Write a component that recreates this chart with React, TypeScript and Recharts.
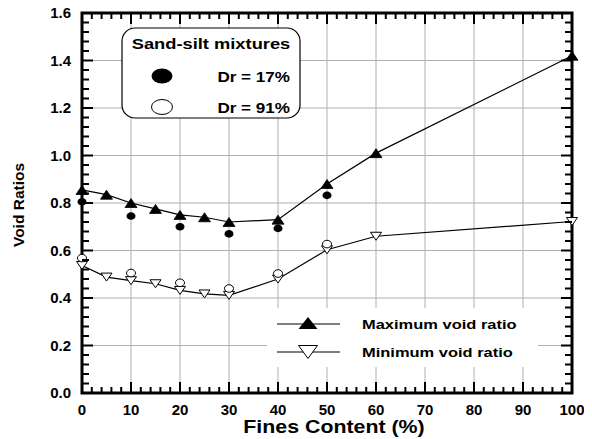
import React from "react";
import {
  ComposedChart,
  Line,
  XAxis,
  YAxis,
  CartesianGrid,
  ReferenceArea
} from "recharts";

// fines content (%) for the max / min void ratio curves
const fines = [0, 5, 10, 15, 20, 25, 30, 40, 50, 60, 100];
const maxVoid = [0.855, 0.835, 0.8, 0.775, 0.75, 0.74, 0.72, 0.73, 0.88, 1.01, 1.42];
const minVoid = [0.537, 0.488, 0.473, 0.46, 0.432, 0.417, 0.411, 0.48, 0.603, 0.66, 0.722];

// sand-silt mixture tests
const drFines = [0, 10, 20, 30, 40, 50];
const dr17 = [0.805, 0.745, 0.7, 0.67, 0.693, 0.832];
const dr91 = [0.568, 0.505, 0.464, 0.44, 0.503, 0.627];

const xMajor = [0, 10, 20, 30, 40, 50, 60, 70, 80, 90, 100];
const yMajor = [0, 0.2, 0.4, 0.6, 0.8, 1.0, 1.2, 1.4, 1.6];
const xTicks = Array.from({ length: 51 }, (_, i) => i * 2);
const yTicks = Array.from({ length: 41 }, (_, i) => Math.round(i * 4) / 100);

const FONT = "'Liberation Sans', Arial, sans-serif";
// chart sits inside the default 8px body margin
const W = 584;
const H = 431;
const MARGIN = { top: 5, right: 20, bottom: 6, left: 14 };
const PLOT_TOP = MARGIN.top;
const PLOT_RIGHT = W - MARGIN.right;

const curveData = fines.map((f, i) => ({ x: f, max: maxVoid[i], min: minVoid[i] }));
const dr17Data = drFines.map((f, i) => ({ x: f, y: dr17[i] }));
const dr91Data = drFines.map((f, i) => ({ x: f, y: dr91[i] }));

const isMajorX = (v: number) => Math.round(v) % 10 === 0;
const isMajorY = (v: number) => Math.round(v * 100) % 20 === 0;

// inward ticks on bottom and top, labels only on majors
const XTick = (props: any) => {
  const { x, y, payload } = props;
  const major = isMajorX(payload.value);
  const len = major ? 11 : 6;
  return (
    <g>
      <line x1={x} x2={x} y1={y} y2={y - len} stroke="#000" strokeWidth={2} />
      <line x1={x} x2={x} y1={PLOT_TOP} y2={PLOT_TOP + len} stroke="#000" strokeWidth={2} />
      {major && (
        <text x={x} y={y + 22} textAnchor="middle" fontFamily={FONT} fontWeight="bold" fontSize={15}>
          {payload.value}
        </text>
      )}
    </g>
  );
};

// inward ticks on left and right
const YTick = (props: any) => {
  const { x, y, payload } = props;
  const major = isMajorY(payload.value);
  const len = major ? 11 : 7;
  return (
    <g>
      <line x1={x} x2={x + len} y1={y} y2={y} stroke="#000" strokeWidth={2} />
      <line x1={PLOT_RIGHT} x2={PLOT_RIGHT - len} y1={y} y2={y} stroke="#000" strokeWidth={2} />
      {major && (
        <text x={x - 11} y={y + 5} textAnchor="end" fontFamily={FONT} fontWeight="bold" fontSize={15}>
          {payload.value.toFixed(1)}
        </text>
      )}
    </g>
  );
};

// wider-than-Arial text for titles and legends
const stretchText = (x: number, y: number, size: number, label: string, anchor = "middle") => (
  <g transform={`translate(${x},${y}) scale(1.22,1)`}>
    <text x={0} y={0} textAnchor={anchor} fontFamily={FONT} fontWeight="bold" fontSize={size} fill="#000">
      {label}
    </text>
  </g>
);

const triUp = (cx: number, cy: number, w: number, h: number) =>
  `M${cx - w / 2},${cy + h / 2} L${cx + w / 2},${cy + h / 2} L${cx},${cy - h / 2} Z`;
const triDown = (cx: number, cy: number, w: number, h: number) =>
  `M${cx - w / 2},${cy - h / 2} L${cx + w / 2},${cy - h / 2} L${cx},${cy + h / 2} Z`;

const MaxDot = (props: any) => {
  const { cx, cy, index } = props;
  return <path key={`mx-${index}`} d={triUp(cx, cy, 12, 9)} fill="#000" stroke="#000" strokeWidth={0.8} />;
};
const MinDot = (props: any) => {
  const { cx, cy, index } = props;
  return <path key={`mn-${index}`} d={triDown(cx, cy, 11, 8)} fill="#fff" stroke="#000" strokeWidth={1} />;
};
const FilledDot = (props: any) => {
  const { cx, cy, index } = props;
  return <ellipse key={`f-${index}`} cx={cx} cy={cy} rx={4.5} ry={3.8} fill="#000" />;
};
const OpenDot = (props: any) => {
  const { cx, cy, index } = props;
  return <ellipse key={`o-${index}`} cx={cx} cy={cy} rx={4.5} ry={3.8} fill="#fff" stroke="#000" strokeWidth={1} />;
};

export default function App() {
  return (
    <div style={{ position: "relative", width: W, height: H }}>
      <ComposedChart width={W} height={H} margin={MARGIN}>
        <CartesianGrid stroke="#b0b0b0" verticalValues={xMajor} horizontalValues={yMajor} />
        <XAxis
          dataKey="x"
          type="number"
          domain={[0, 100]}
          ticks={xTicks}
          interval={0}
          tickSize={0}
          tickMargin={0}
          height={40}
          axisLine={false}
          tick={XTick}
        />
        <YAxis
          type="number"
          domain={[0, 1.6]}
          ticks={yTicks}
          interval={0}
          tickSize={0}
          tickMargin={0}
          width={60}
          axisLine={false}
          tick={YTick}
        />
        <ReferenceArea x1={0} x2={100} y1={0} y2={1.6} fill="none" stroke="#000" strokeWidth={3} />
        <Line data={curveData} dataKey="max" stroke="#000" strokeWidth={1.2} dot={MaxDot} isAnimationActive={false} />
        <Line data={curveData} dataKey="min" stroke="#000" strokeWidth={1.2} dot={MinDot} isAnimationActive={false} />
        <Line data={dr17Data} dataKey="y" stroke="none" dot={FilledDot} isAnimationActive={false} />
        <Line data={dr91Data} dataKey="y" stroke="none" dot={OpenDot} isAnimationActive={false} />

        {/* titles and legends, laid out in page pixels */}
        <g transform="translate(-8,-8)">
          {stretchText(334, 433, 17.5, "Fines Content (%)")}
          <text
            transform="translate(24,205) rotate(-90)"
            textAnchor="middle"
            fontFamily={FONT}
            fontWeight="bold"
            fontSize={15.5}
          >
            Void Ratios
          </text>

          <rect x={122} y={28} width={178} height={90} rx={13} fill="#fff" stroke="#000" strokeWidth={1.2} />
          {stretchText(211, 49, 15, "Sand-silt mixtures")}
          <ellipse cx={162} cy={76} rx={10.5} ry={7.5} fill="#000" />
          {stretchText(290, 82, 14, "Dr = 17%", "end")}
          <ellipse cx={162} cy={107} rx={10.5} ry={7.5} fill="#fff" stroke="#000" strokeWidth={1} />
          {stretchText(290, 113, 14, "Dr = 91%", "end")}

          <rect x={267} y={308} width={271} height={59} fill="#fff" />
          <line x1={277} x2={340} y1={324} y2={324} stroke="#000" strokeWidth={1.2} />
          <path d={triUp(308, 323, 19, 12)} fill="#000" />
          {stretchText(362, 329, 13.5, "Maximum void ratio", "start")}
          <line x1={277} x2={340} y1={352} y2={352} stroke="#000" strokeWidth={1.2} />
          <path d={triDown(308, 352, 19, 13)} fill="#fff" stroke="#000" strokeWidth={1} />
          {stretchText(362, 357, 13.5, "Minimum void ratio", "start")}
        </g>
      </ComposedChart>
    </div>
  );
}
